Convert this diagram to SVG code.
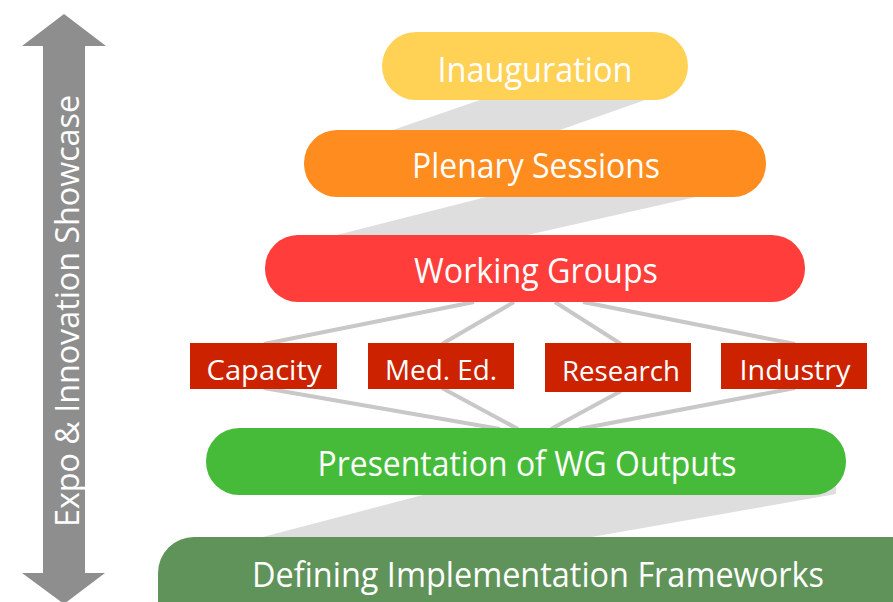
<svg xmlns="http://www.w3.org/2000/svg" width="893" height="602" viewBox="0 0 893 602">
<style>
.lbl{font-family:"Open Sans","Liberation Sans",sans-serif;fill:#ffffff;text-anchor:middle}
.big{font-size:34px}
.small{font-size:28px}
.band{fill:#dedede}
.conn{stroke:#c8c8c8;stroke-width:4;fill:none}
</style>
<rect width="893" height="602" fill="#ffffff"/>
<g id="bands">
<polygon class="band" points="483,99 648,99 557,131 390,131"/>
<polygon class="band" points="490,196 700,196 523,236 333,236"/>
<polygon class="band" points="480,480 836,480 836,494 586,538 259,538"/>
</g>
<g id="connectors">
<line class="conn" x1="474" y1="302" x2="264" y2="344"/>
<line class="conn" x1="514" y1="302" x2="442" y2="344"/>
<line class="conn" x1="555" y1="302" x2="621" y2="344"/>
<line class="conn" x1="583" y1="302" x2="795" y2="344"/>
<line class="conn" x1="264" y1="388" x2="500" y2="429"/>
<line class="conn" x1="442" y1="388" x2="518" y2="429"/>
<line class="conn" x1="621" y1="391" x2="551" y2="429"/>
<line class="conn" x1="795" y1="388" x2="579" y2="429"/>
</g>
<g id="expo">
<polygon points="64,14 106,46 85,46 85,573 105,573 64,604 22,573 43,573 43,46 22,46" fill="#8e8e8e"/>
<text class="lbl" transform="translate(79,311) rotate(-90)" style="font-size:33px" textLength="432" lengthAdjust="spacingAndGlyphs">Expo &amp; Innovation Showcase</text>
</g>
<g id="inauguration">
<rect x="382" y="32" width="306" height="68" rx="34" fill="#ffd155"/>
<text class="lbl big" x="535" y="82" textLength="195" lengthAdjust="spacingAndGlyphs">Inauguration</text>
</g>
<g id="plenary">
<rect x="304" y="130" width="462" height="67" rx="33" fill="#fe8c1e"/>
<text class="lbl big" x="536" y="178" textLength="248" lengthAdjust="spacingAndGlyphs">Plenary Sessions</text>
</g>
<g id="working-groups">
<rect x="265" y="235" width="540" height="67" rx="33" fill="#ff3e3b"/>
<text class="lbl big" x="536" y="283" textLength="244" lengthAdjust="spacingAndGlyphs">Working Groups</text>
</g>
<g id="capacity">
<rect x="190" y="343" width="147" height="46" fill="#cc2200"/>
<text class="lbl small" x="264" y="380" textLength="115" lengthAdjust="spacingAndGlyphs">Capacity</text>
</g>
<g id="med-ed">
<rect x="368" y="343" width="146" height="46" fill="#cc2200"/>
<text class="lbl small" x="441" y="380" textLength="112" lengthAdjust="spacingAndGlyphs">Med. Ed.</text>
</g>
<g id="research">
<rect x="545" y="343" width="146" height="49" fill="#cc2200"/>
<text class="lbl small" x="621" y="381" textLength="118" lengthAdjust="spacingAndGlyphs">Research</text>
</g>
<g id="industry">
<rect x="721" y="343" width="146" height="46" fill="#cc2200"/>
<text class="lbl small" x="795" y="380" textLength="111" lengthAdjust="spacingAndGlyphs">Industry</text>
</g>
<g id="presentation">
<rect x="206" y="428" width="640" height="67" rx="33" fill="#46bb3a"/>
<text class="lbl big" x="527" y="476" textLength="419" lengthAdjust="spacingAndGlyphs">Presentation of WG Outputs</text>
</g>
<g id="defining">
<rect x="158" y="537" width="770" height="100" rx="36" fill="#5f935a"/>
<text class="lbl big" x="538" y="587" textLength="572" lengthAdjust="spacingAndGlyphs">Defining Implementation Frameworks</text>
</g>
</svg>
